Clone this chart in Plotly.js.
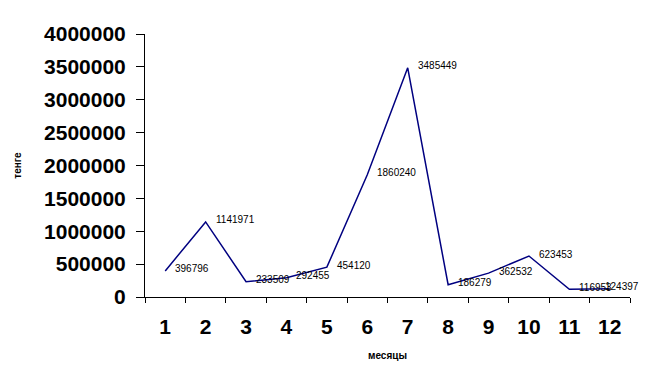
<!DOCTYPE html>
<html>
<head>
<meta charset="utf-8">
<script src="https://cdn.plot.ly/plotly-3.0.1.min.js"></script>
<style>html,body{margin:0;padding:0;background:#fff;}#chart{width:646px;height:385px;}</style>
</head>
<body>
<div id="chart"></div>
<script>
const months = ["1","2","3","4","5","6","7","8","9","10","11","12"];
const values = [396796, 1141971, 233509, 292455, 454120, 1860240, 3485449, 186279, 362532, 623453, 116953, 124397];
const yTicks = [0, 500000, 1000000, 1500000, 2000000, 2500000, 3000000, 3500000, 4000000];

const FONT = "Arial, Liberation Sans, sans-serif";

const trace = {
  x: months,
  y: values,
  type: "scatter",
  mode: "lines",
  line: {color: "#000080", width: 1.5},
  hoverinfo: "none"
};

// annotations on a category axis are placed by category index
const annotations = months.map((m, i) => ({
  x: i,
  y: values[i],
  xref: "x",
  yref: "y",
  text: String(values[i]),
  showarrow: false,
  xanchor: "left",
  yanchor: "middle",
  xshift: i === months.length - 1 ? -7 : 8,
  yshift: 2,
  font: {family: FONT, size: 10, color: "#000"}
}));

const layout = {
  width: 646,
  height: 385,
  margin: {l: 145, r: 16, t: 34, b: 88},
  paper_bgcolor: "#fff",
  plot_bgcolor: "#fff",
  showlegend: false,
  font: {family: FONT, color: "#000"},
  annotations: annotations,
  xaxis: {
    type: "category",
    range: [-0.5, 11.5],
    tickson: "boundaries",
    ticks: "outside",
    ticklen: 5,
    tickcolor: "#000",
    showline: true,
    linecolor: "#000",
    linewidth: 1,
    showgrid: false,
    zeroline: false,
    ticklabelstandoff: 11,
    tickfont: {size: 21, family: FONT, weight: "bold"},
    title: {text: "месяцы", font: {size: 10, weight: "bold"}, standoff: 14}
  },
  yaxis: {
    range: [0, 4000000],
    tickvals: yTicks,
    ticktext: yTicks.map(v => String(v)),
    ticks: "outside",
    ticklen: 8,
    tickcolor: "#000",
    showline: true,
    linecolor: "#000",
    linewidth: 1,
    showgrid: false,
    zeroline: false,
    ticklabelstandoff: 6,
    tickfont: {size: 21, family: FONT, weight: "bold"},
    title: {text: "тенге", font: {size: 10, weight: "bold"}, standoff: 20}
  }
};

Plotly.newPlot("chart", [trace], layout, {displayModeBar: false, staticPlot: true});
</script>
</body>
</html>
